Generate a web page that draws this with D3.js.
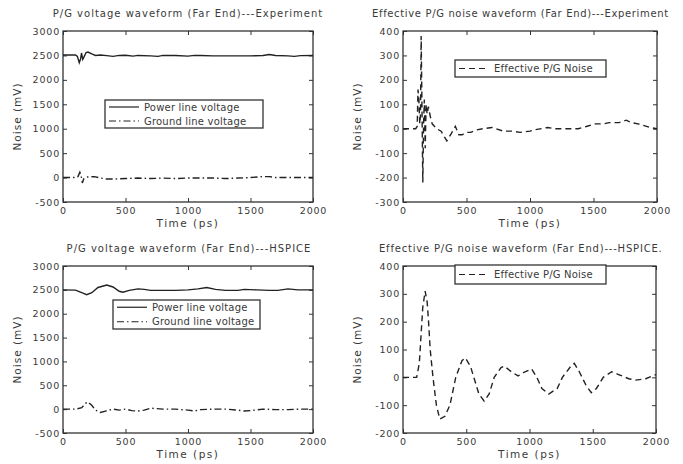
<!DOCTYPE html>
<html>
<head>
<meta charset="utf-8">
<script src="https://cdn.jsdelivr.net/npm/d3@7"></script>
<style>
  body { margin: 0; background: #fff; }
  svg text { font-family: "DejaVu Sans", Verdana, sans-serif; fill: #3a3a3a; }
</style>
</head>
<body>
<div id="chart"></div>
<script>
// --- data (time in ps, voltage/noise in mV) ---
const xTicks = [0, 500, 1000, 1500, 2000];

const expPowerT = [0, 100, 115, 130, 140, 148, 158, 170, 185, 200, 230, 260, 300, 350, 400, 450, 500, 560, 600, 700, 760, 800, 900, 1000, 1050, 1100, 1200, 1300, 1400, 1500, 1600, 1650, 1700, 1800, 1850, 1900, 2000];
const expPowerV = [2510, 2510, 2480, 2350, 2420, 2550, 2420, 2480, 2560, 2570, 2530, 2500, 2510, 2495, 2480, 2500, 2505, 2485, 2500, 2490, 2480, 2500, 2500, 2485, 2500, 2500, 2490, 2490, 2490, 2490, 2500, 2520, 2500, 2490, 2480, 2495, 2500];
const expGroundT = [0, 100, 120, 135, 145, 155, 165, 190, 250, 300, 350, 400, 500, 600, 700, 800, 900, 1000, 1100, 1200, 1300, 1400, 1500, 1600, 1650, 1700, 1800, 1900, 2000];
const expGroundV = [0, 0, 20, 110, 40, -110, -30, 10, 20, -10, -30, -30, -20, -10, -20, -10, -20, -10, -10, -10, -20, -10, 0, 20, 20, 0, 0, 0, 0];

const expNoiseT = [0, 100, 112, 118, 125, 132, 138, 143, 150, 156, 162, 168, 175, 182, 190, 200, 215, 230, 265, 300, 345, 380, 412, 440, 466, 500, 533, 580, 627, 700, 790, 860, 923, 1000, 1031, 1139, 1200, 1300, 1380, 1450, 1515, 1580, 1623, 1700, 1758, 1800, 1850, 1946, 2000];
const expNoiseV = [0, 0, 10, 160, 120, 20, 60, 380, 60, -220, 20, 120, -80, 100, 60, 90, 50, 20, 0, -10, -50, -20, 10, -25, -25, -15, -15, -5, 0, 5, -10, -10, -15, -10, -5, 5, 0, 0, 0, 10, 20, 20, 25, 25, 35, 25, 20, 5, 0];

const simPowerT = [0, 100, 150, 190, 230, 280, 350, 400, 450, 480, 530, 600, 650, 700, 800, 900, 1000, 1080, 1150, 1220, 1300, 1400, 1450, 1550, 1650, 1720, 1800, 1880, 2000];
const simPowerV = [2500, 2495, 2440, 2400, 2440, 2550, 2600, 2560, 2470, 2450, 2490, 2520, 2510, 2490, 2490, 2490, 2500, 2520, 2550, 2510, 2490, 2490, 2510, 2500, 2490, 2490, 2520, 2500, 2500];
const simGroundT = [0, 100, 150, 180, 200, 230, 260, 300, 340, 400, 450, 500, 550, 600, 650, 700, 750, 800, 900, 1000, 1050, 1100, 1200, 1300, 1400, 1450, 1500, 1600, 1700, 1800, 1900, 2000];
const simGroundV = [0, 0, 30, 120, 150, 80, -20, -70, -40, 0, -20, 0, -30, -40, -20, 20, 10, 0, 0, -20, -40, -10, 0, 0, -20, -40, -30, 0, -10, -10, 0, 0];

const simNoiseT = [0, 108, 129, 156, 175, 191, 202, 215, 237, 264, 291, 331, 371, 417, 466, 493, 533, 560, 600, 641, 681, 721, 775, 802, 856, 910, 964, 1017, 1058, 1098, 1152, 1219, 1260, 1327, 1354, 1394, 1448, 1489, 1529, 1583, 1650, 1704, 1785, 1839, 1919, 1973, 2000];
const simNoiseV = [0, 0, 50, 250, 310, 270, 200, 100, 0, -100, -150, -140, -100, 0, 60, 70, 40, 0, -60, -85, -60, 0, 35, 40, 20, 5, 20, 30, 0, -40, -60, -40, 0, 40, 50, 20, -30, -55, -40, 0, 20, 10, -5, -10, -5, 5, 10];

const voltTicks = [-500, 0, 500, 1000, 1500, 2000, 2500, 3000];
const expNoiseTicks = [-300, -200, -100, 0, 100, 200, 300, 400];
const simNoiseTicks = [-200, -100, 0, 100, 200, 300, 400];

const zip = (t, v) => t.map((x, i) => ({ t: x, v: v[i] }));

const panels = [
  {
    title: 'P/G voltage waveform (Far End)---Experiment',
    box: { x: 63, y: 31, w: 250, h: 171 }, titleX: 188, titleLs: 1,
    yDomain: [-500, 3000], yTicks: voltTicks,
    series: [
      { data: zip(expPowerT, expPowerV), dash: null },
      { data: zip(expGroundT, expGroundV), dash: '7,3,1.5,3' }
    ],
    legend: { x: 105, y: 100, w: 158, h: 28, items: [
      { label: 'Power line voltage', dash: null },
      { label: 'Ground line voltage', dash: '7,3,1.5,3' }
    ] }
  },
  {
    title: 'Effective P/G noise waveform (Far End)---Experiment',
    box: { x: 403, y: 31, w: 254, h: 171 }, titleX: 372, titleAnchor: 'start', titleLs: 0.65,
    yDomain: [-300, 400], yTicks: expNoiseTicks,
    series: [ { data: zip(expNoiseT, expNoiseV), dash: '6,4' } ],
    legend: { x: 455, y: 60, w: 151, h: 17, items: [ { label: 'Effective P/G Noise', dash: '6,4' } ] }
  },
  {
    title: 'P/G voltage waveform (Far End)---HSPICE',
    box: { x: 63, y: 266, w: 250, h: 167 }, titleX: 189, titleLs: 1,
    yDomain: [-500, 3000], yTicks: voltTicks,
    series: [
      { data: zip(simPowerT, simPowerV), dash: null },
      { data: zip(simGroundT, simGroundV), dash: '7,3,1.5,3' }
    ],
    legend: { x: 113, y: 300, w: 147, h: 29, items: [
      { label: 'Power line voltage', dash: null },
      { label: 'Ground line voltage', dash: '7,3,1.5,3' }
    ] }
  },
  {
    title: 'Effective P/G noise waveform (Far End)---HSPICE.',
    box: { x: 403, y: 266, w: 253, h: 167 }, titleX: 379, titleAnchor: 'start', titleLs: 0.8,
    yDomain: [-200, 400], yTicks: simNoiseTicks,
    series: [ { data: zip(simNoiseT, simNoiseV), dash: '6,4' } ],
    legend: { x: 455, y: 265, w: 151, h: 19, items: [ { label: 'Effective P/G Noise', dash: '6,4' } ] }
  }
];

const svg = d3.select('#chart').append('svg')
  .attr('width', 683).attr('height', 464);

panels.forEach(p => {
  const b = p.box;
  const x = d3.scaleLinear().domain([0, 2000]).range([b.x, b.x + b.w]);
  const y = d3.scaleLinear().domain(p.yDomain).range([b.y + b.h, b.y]);
  const g = svg.append('g');

  // frame
  g.append('rect')
    .attr('x', b.x).attr('y', b.y).attr('width', b.w).attr('height', b.h)
    .attr('fill', 'none').attr('stroke', '#333').attr('stroke-width', 1.3);

  // axes (MATLAB style: inward ticks on all sides)
  const fmt = d => String(d);
  g.append('g').attr('transform', `translate(0,${b.y + b.h})`)
    .call(d3.axisBottom(x).tickValues(xTicks).tickSize(-4).tickPadding(5).tickFormat(fmt));
  g.append('g').attr('transform', `translate(0,${b.y})`)
    .call(d3.axisTop(x).tickValues(xTicks).tickSize(-4).tickFormat(''));
  g.append('g').attr('transform', `translate(${b.x},0)`)
    .call(d3.axisLeft(y).tickValues(p.yTicks).tickSize(-4).tickPadding(3).tickFormat(fmt));
  g.append('g').attr('transform', `translate(${b.x + b.w},0)`)
    .call(d3.axisRight(y).tickValues(p.yTicks).tickSize(-4).tickFormat(''));
  g.selectAll('.domain').remove();
  g.selectAll('.tick line').attr('stroke', '#333');
  g.selectAll('.tick text').attr('font-size', 9.5).attr('fill', '#3a3a3a')
    .attr('letter-spacing', 0.8)
    .attr('font-family', '"DejaVu Sans", Verdana, sans-serif');

  // series
  const line = d3.line().x(d => x(d.t)).y(d => y(d.v));
  p.series.forEach(s => {
    g.append('path').datum(s.data)
      .attr('d', line).attr('fill', 'none')
      .attr('stroke', '#222').attr('stroke-width', 1.4)
      .attr('stroke-dasharray', s.dash);
  });

  // titles and labels (reference text is a bit stretched sideways)
  g.append('text').attr('x', p.titleX).attr('y', b.y - 14)
    .attr('text-anchor', p.titleAnchor || 'middle').attr('font-size', 10)
    .attr('letter-spacing', p.titleLs).text(p.title);
  g.append('text').attr('x', b.x + b.w / 2).attr('y', b.y + b.h + 25)
    .attr('text-anchor', 'middle').attr('font-size', 10.5)
    .attr('letter-spacing', 1.5).text('Time (ps)');
  g.append('text')
    .attr('transform', `translate(${b.x - 42},${b.y + b.h / 2}) rotate(-90)`)
    .attr('text-anchor', 'middle').attr('font-size', 10.5)
    .attr('letter-spacing', 1).text('Noise (mV)');

  // legend
  const L = p.legend;
  const lg = g.append('g');
  lg.append('rect').attr('x', L.x).attr('y', L.y).attr('width', L.w).attr('height', L.h)
    .attr('fill', '#fff').attr('stroke', '#333').attr('stroke-width', 1.3);
  const rowH = L.h / L.items.length;
  L.items.forEach((it, i) => {
    const cy = L.y + rowH * (i + 0.5);
    lg.append('line').attr('x1', L.x + 4).attr('x2', L.x + 34)
      .attr('y1', cy).attr('y2', cy)
      .attr('stroke', '#222').attr('stroke-width', 1.2)
      .attr('stroke-dasharray', it.dash);
    lg.append('text').attr('x', L.x + 39).attr('y', cy + 3.5)
      .attr('font-size', 10).attr('letter-spacing', 0.2).text(it.label);
  });
});
</script>
</body>
</html>
